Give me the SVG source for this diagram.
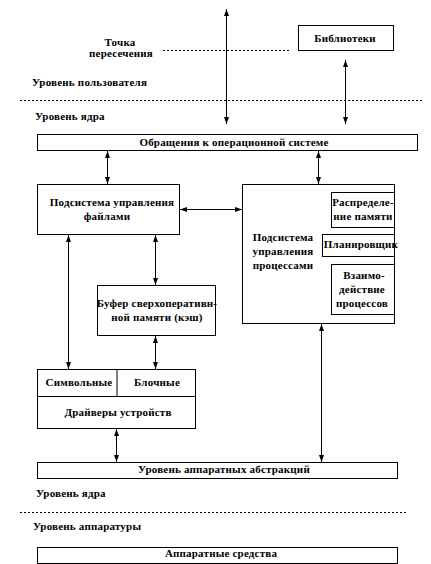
<svg xmlns="http://www.w3.org/2000/svg" width="431" height="564" viewBox="0 0 431 564">
<defs>
<style>
text{font-family:"Liberation Serif","Times New Roman",serif;font-weight:bold;font-size:11px;letter-spacing:0.2px;fill:#000}
.m{text-anchor:middle}
rect{fill:#fff;stroke:#000;stroke-width:1}
.c line{stroke:#000;stroke-width:1;marker-start:url(#a);marker-end:url(#a)}
.d{stroke:#000;stroke-width:1;stroke-dasharray:2,2}
</style>
<marker id="a" viewBox="0 0 7 5" refX="7" refY="2.5" markerWidth="7" markerHeight="5" markerUnits="userSpaceOnUse" orient="auto-start-reverse">
<path d="M0,0 L7,2.5 L0,5 z" fill="#000"/>
</marker>
</defs>
<rect x="0" y="0" width="431" height="564" style="stroke:none"/>
<g id="levels">
<text x="120" y="46" class="m">Точка</text>
<text x="121" y="57" class="m">пересечения</text>
<line x1="163" y1="50.5" x2="289" y2="50.5" class="d"/>
<text x="32" y="86">Уровень пользователя</text>
<line x1="20" y1="100.5" x2="423" y2="100.5" class="d"/>
<text x="35" y="120">Уровень ядра</text>
<text x="36" y="497">Уровень ядра</text>
<line x1="20" y1="512.5" x2="407" y2="512.5" class="d"/>
<text x="33" y="530">Уровень аппаратуры</text>
</g>
<g id="lib"><rect x="298.5" y="25.5" width="95" height="25"/><text x="345" y="42" class="m">Библиотеки</text></g>
<g id="syscall"><rect x="37.5" y="134.5" width="380" height="16"/><text x="234" y="146" class="m">Обращения к операционной системе</text></g>
<g id="files"><rect x="37.5" y="184.5" width="142" height="50"/><text x="112" y="206" class="m">Подсистема управления</text><text x="107" y="220" class="m">файлами</text></g>
<g id="proc"><rect x="242.5" y="184.5" width="152" height="139"/>
<text x="283" y="241" class="m">Подсистема</text><text x="283" y="255" class="m">управления</text><text x="283" y="269" class="m">процессами</text></g>
<g id="mem"><rect x="331.5" y="192.5" width="63" height="35"/><text x="363" y="206" class="m">Распределе-</text><text x="363" y="220" class="m">ние памяти</text></g>
<g id="sched"><rect x="322.5" y="234.5" width="72" height="22"/><text x="361" y="248" class="m">Планировщик</text></g>
<g id="ipc"><rect x="331.5" y="264.5" width="63" height="50"/><text x="364" y="279" class="m">Взаимо-</text><text x="362" y="293" class="m">действие</text><text x="362" y="307" class="m">процессов</text></g>
<g id="buffer"><rect x="97.5" y="285.5" width="118" height="50"/><text x="157" y="307" class="m">Буфер сверхоперативн-</text><text x="157" y="321" class="m">ной памяти (кэш)</text></g>
<g id="drivers"><rect x="37.5" y="369.5" width="158" height="59"/>
<line x1="37.5" y1="396.5" x2="195.5" y2="396.5" stroke="#000"/><line x1="117" y1="369.5" x2="117" y2="396.5" stroke="#000"/>
<text x="79" y="386" class="m">Символьные</text><text x="157" y="386" class="m">Блочные</text><text x="118" y="416" class="m">Драйверы устройств</text></g>
<g id="hal"><rect x="37.5" y="462.5" width="360" height="16"/><text x="224" y="473" class="m">Уровень аппаратных абстракций</text></g>
<g id="hw"><rect x="37.5" y="547.5" width="360" height="16"/><text x="221" y="557" class="m">Аппаратные средства</text></g>
<g class="c" id="connectors">
<line x1="226.5" y1="9" x2="226.5" y2="124"/>
<line x1="345.5" y1="60" x2="345.5" y2="124"/>
<line x1="107.5" y1="151" x2="107.5" y2="184"/>
<line x1="318.5" y1="151" x2="318.5" y2="184"/>
<line x1="180" y1="209.5" x2="242" y2="209.5"/>
<line x1="68.5" y1="235" x2="68.5" y2="369"/>
<line x1="155.5" y1="235" x2="155.5" y2="285"/>
<line x1="155.5" y1="336" x2="155.5" y2="369"/>
<line x1="116.5" y1="429" x2="116.5" y2="462"/>
<line x1="321.5" y1="324" x2="321.5" y2="462"/>
</g>
</svg>
